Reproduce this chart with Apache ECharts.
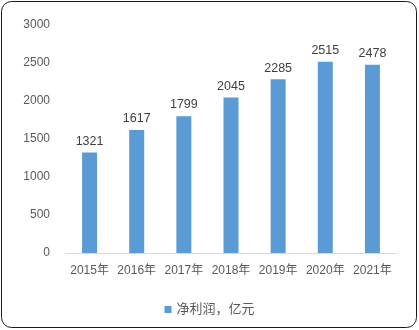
<!DOCTYPE html>
<html>
<head>
<meta charset="utf-8">
<script src="https://cdn.jsdelivr.net/npm/echarts@6/dist/echarts.min.js"></script>
<style>
  html, body { margin: 0; padding: 0; background: #fff; }
  #chart { width: 419px; height: 330px; }
</style>
</head>
<body>
<div id="chart"></div>
<script>
// Net profit by year (亿元)
const years = ['2015年', '2016年', '2017年', '2018年', '2019年', '2020年', '2021年'];
const netProfit = [1321, 1617, 1799, 2045, 2285, 2515, 2478];
const seriesName = '净利润，亿元';
const yTicks = { min: 0, max: 3000, interval: 500 };

const FONT = '"Liberation Sans", "Noto Sans CJK SC", sans-serif';
const chart = echarts.init(document.getElementById('chart'), null, { renderer: 'canvas' });

chart.setOption({
  animation: false,
  textStyle: { fontFamily: FONT },
  graphic: [{
    type: 'rect',
    shape: { x: 1.5, y: 1.5, width: 415, height: 326, r: 10 },
    style: { fill: 'none', stroke: '#1a1a1a', lineWidth: 1 },
    silent: true
  }],
  grid: { left: 66, right: 23, top: 25, bottom: 77 },
  legend: {
    bottom: 9,
    left: 'center',
    itemWidth: 7,
    itemHeight: 7,
    icon: 'rect',
    itemGap: 6,
    textStyle: { color: '#595959', fontSize: 13, fontFamily: FONT },
    data: [seriesName]
  },
  xAxis: {
    type: 'category',
    data: years,
    axisLine: { lineStyle: { color: '#d9d9d9', width: 1 } },
    axisTick: { show: false },
    axisLabel: { color: '#595959', fontSize: 12, margin: 12, interval: 0, fontFamily: FONT }
  },
  yAxis: {
    type: 'value',
    min: yTicks.min,
    max: yTicks.max,
    interval: yTicks.interval,
    splitLine: { show: false },
    axisLine: { show: false },
    axisTick: { show: false },
    axisLabel: {
      color: '#595959',
      fontSize: 12,
      margin: 16,
      fontFamily: FONT,
      formatter: v => String(v)
    }
  },
  series: [{
    name: seriesName,
    type: 'bar',
    data: netProfit,
    barWidth: 15,
    itemStyle: { color: '#5b9bd5' },
    label: {
      show: true,
      position: 'top',
      distance: 5,
      color: '#404040',
      fontSize: 12.5,
      fontFamily: FONT
    }
  }]
});
</script>
</body>
</html>
